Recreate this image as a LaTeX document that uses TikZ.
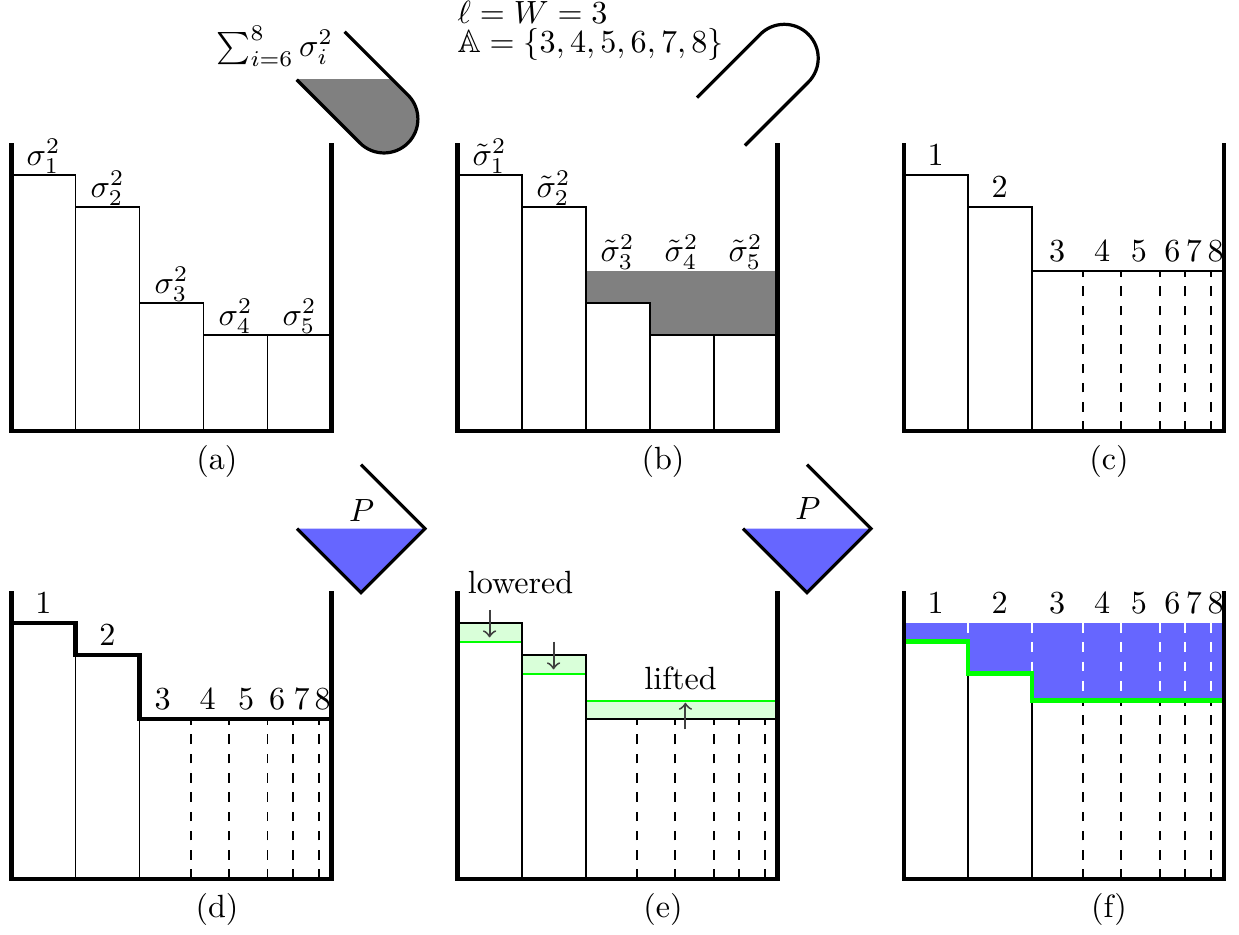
\documentclass[tikz,border=0pt]{standalone}
\usepackage{amssymb}
\definecolor{power}{RGB}{102,102,255}
\begin{document}
\begin{tikzpicture}[
    x=0.35cm, y=0.35cm,
    wall/.style={line width=1.3pt},
    bar/.style={line width=0.6pt},
    cut/.style={bar, dashed},
    wcut/.style={bar, dashed, white},
    tube/.style={line width=1pt},
    lab/.style={anchor=base, inner sep=0pt},
    subcap/.style={anchor=base},
    band/.style={fill=green!15, draw=green, line width=0.6pt},
    mv/.style={->, black!75, line width=0.6pt},
    level/.style={green, line width=1.3pt}
]
\useasboundingbox (0,0) rectangle (38.72,29.19);

% (a) eigenvalues as columns, poured tail
\begin{scope}[shift={(0.36,15.72)}]
\foreach \i/\h in {1/8,2/7,3/4,4/3,5/3}{
    \draw[bar] ({2*\i-2},0) rectangle ({2*\i},\h);
    \node[lab] (sa\i) at ({2*\i-1},{\h+0.3}) {$\sigma_\i^2$};
}
\draw[wall] (0,9) |- (10,0) -- (10,9);

% tube with the poured part
\begin{scope}[shift={(11.64,9.75)}, rotate=-45]
    \coordinate (lipa) at (-2.8,-1.06);
\end{scope}
\begin{scope}
    \clip (lipa) ++(-1,-4) rectangle ++(6,4);
    \fill[gray, shift={(11.64,9.75)}, rotate=-45]
        (-2.8,1.06) -- (0,1.06) arc (90:-90:1.06) -- (-2.8,-1.06) -- cycle;
\end{scope}
\draw[tube, shift={(11.64,9.75)}, rotate=-45]
    (-2.8,1.06) -- (0,1.06) arc (90:-90:1.06) -- (-2.8,-1.06);
\node (sum) at (8.23,12.03) {$\sum_{i=6}^{8}\sigma_i^2$};

\node[subcap] (capa) at (6.42,-1.19) {(a)};
\end{scope}

% (b) tail spread over the last columns
\begin{scope}[shift={(14.3,15.72)}]
\fill[gray] (4,5) -- (10,5) -- (10,3) -- (6,3) -- (6,4) -- (4,4) -- cycle;
\foreach \i/\h in {1/8,2/7,3/4,4/3,5/3}
    \draw[bar] ({2*\i-2},0) rectangle ({2*\i},\h);
\node[lab] (sb1) at (1,8.3) {$\tilde{\sigma}_1^2$};
\node[lab] (sb2) at (3,7.3) {$\tilde{\sigma}_2^2$};
\foreach \i in {3,4,5}
    \node[lab] (sb\i) at ({2*\i-1},5.3) {$\tilde{\sigma}_\i^2$};
\draw[wall] (0,9) |- (10,0) -- (10,9);

% empty tube
\draw[tube, shift={(10.21,11.65)}, rotate=45]
    (-2.8,1.06) -- (0,1.06) arc (90:-90:1.06) -- (-2.8,-1.06);
\node[anchor=base west, inner sep=0pt] (ell) at (-0.02,12.72) {$\ell = W = 3$};
\node[anchor=base west, inner sep=0pt] (aset) at (-0.02,11.84) {$\mathbb{A} = \{3,4,5,6,7,8\}$};

\node[subcap] (capb) at (6.42,-1.19) {(b)};
\end{scope}

% (c) merged subchannels
\begin{scope}[shift={(28.24,15.72)}]
\draw[bar] (0,0) rectangle (2,8);
\draw[bar] (2,0) rectangle (4,7);
\draw[bar] (4,0) rectangle (10,5);
\foreach \x in {5.6,6.8,8.0,8.8,9.6}
    \draw[cut] (\x,0) -- (\x,5);
\node[lab] (c1) at (1,8.3) {1};
\node[lab] (c2) at (3,7.3) {2};
\foreach \n/\x in {3/4.8,4/6.2,5/7.35,6/8.4,7/9.07,8/9.75}
    \node[lab] (c\n) at (\x,5.3) {\n};
\draw[wall] (0,9) |- (10,0) -- (10,9);
\node[subcap] (capc) at (6.42,-1.19) {(c)};
\end{scope}

% (d) outline before filling
\begin{scope}[shift={(0.36,1.72)}]
\draw[bar] (0,0) rectangle (2,8);
\draw[bar] (2,0) rectangle (4,7);
\draw[bar] (4,0) rectangle (10,5);
\foreach \x in {5.6,6.8,8.0,8.8,9.6}
    \draw[cut] (\x,0) -- (\x,5);
\draw[wall] (0,8) -- (2,8) -- (2,7) -- (4,7) -- (4,5) -- (10,5);
\node[lab] (d1) at (1,8.3) {1};
\node[lab] (d2) at (3,7.3) {2};
\foreach \n/\x in {3/4.72,4/6.13,5/7.33,6/8.3,7/9.07,8/9.72}
    \node[lab] (d\n) at (\x,5.3) {\n};
\draw[wall] (0,9) |- (10,0) -- (10,9);

% power cup
\fill[power] (8.92,10.95) -- (10.92,8.95) -- (12.92,10.95) -- cycle;
\draw[tube] (8.92,10.95) -- (10.92,8.95) -- (12.92,10.95) -- (10.92,12.95);
\node (pd) at (10.94,11.53) {$P$};

\node[subcap] (capd) at (6.42,-1.19) {(d)};
\end{scope}

% (e) levels lowered and lifted
\begin{scope}[shift={(14.3,1.72)}]
\draw[band] (0,7.42) rectangle (2,8);
\draw[band] (2,6.42) rectangle (4,7);
\draw[band] (4,5) rectangle (10,5.56);
\draw[bar] (0,0) rectangle (2,8);
\draw[bar] (2,0) rectangle (4,7);
\draw[bar] (4,0) rectangle (10,5);
\foreach \x in {5.6,6.8,8.0,8.8,9.6}
    \draw[cut] (\x,0) -- (\x,5);
\draw[wall] (0,9) |- (10,0) -- (10,9);

\coordinate (l1s) at (1,8.41);
\coordinate (l1e) at (1,7.55);
\coordinate (l2s) at (3,7.42);
\coordinate (l2e) at (3,6.55);
\coordinate (ups) at (7.12,4.68);
\coordinate (upe) at (7.12,5.51);
\draw[mv] (l1s) -- (l1e);
\draw[mv] (l2s) -- (l2e);
\draw[mv] (ups) -- (upe);
\node (lowered) at (1.97,9.28) {lowered};
\node (lifted) at (6.97,6.28) {lifted};

% power cup
\fill[power] (8.92,10.95) -- (10.92,8.95) -- (12.92,10.95) -- cycle;
\draw[tube] (8.92,10.95) -- (10.92,8.95) -- (12.92,10.95) -- (10.92,12.95);
\node (pe) at (10.95,11.57) {$P$};

\node[subcap] (cape) at (6.42,-1.19) {(e)};
\end{scope}

% (f) water-filled result
\begin{scope}[shift={(28.24,1.72)}]
\fill[power] (0,8) -- (10,8) -- (10,5.58) -- (4,5.58) -- (4,6.42)
    -- (2,6.42) -- (2,7.42) -- (0,7.42) -- cycle;
\draw[wcut] (2,8) -- (2,7.42);
\draw[wcut] (4,8) -- (4,6.42);
\foreach \x in {5.6,6.8,8.0,8.8,9.6}{
    \draw[wcut] (\x,8) -- (\x,5.58);
    \draw[cut] (\x,0) -- (\x,5.58);
}
\draw[bar] (2,0) -- (2,6.42);
\draw[bar] (4,0) -- (4,5.58);
\draw[level] (0,7.42) -- (2,7.42) -- (2,6.42) -- (4,6.42) -- (4,5.58) -- (10,5.58);
\node[lab] (f1) at (1,8.3) {1};
\node[lab] (f2) at (3,8.3) {2};
\foreach \n/\x in {3/4.8,4/6.2,5/7.35,6/8.4,7/9.07,8/9.75}
    \node[lab] (f\n) at (\x,8.3) {\n};
\draw[wall] (0,9) |- (10,0) -- (10,9);
\node[subcap] (capf) at (6.42,-1.19) {(f)};
\end{scope}

\end{tikzpicture}
\end{document}
